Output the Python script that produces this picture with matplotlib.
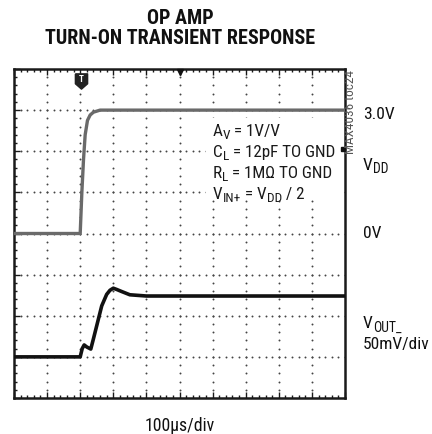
import matplotlib
matplotlib.use("Agg")
import matplotlib.pyplot as plt
import numpy as np
from matplotlib import font_manager, transforms
from matplotlib.patches import Rectangle
from matplotlib.path import Path

# ---------------- data ----------------
# time axis in divisions (100us/div)
t_in = [0.0, 2.00, 2.05, 2.10, 2.15, 2.22, 2.30, 2.40, 2.60, 10.0]
v_dd = [0.0, 0.0, 1.0, 1.8, 2.4, 2.75, 2.88, 2.95, 3.0, 3.0]          # volts

t_out = [0.0, 2.00, 2.06, 2.12, 2.20, 2.32, 2.40, 2.50, 2.65, 2.80, 2.90,
         3.00, 3.10, 3.25, 3.50, 4.00, 10.0]
v_out = [0.0, 0.0, 10.0, 14.5, 12.0, 9.5, 22.0, 38.0, 62.0, 76.0, 81.0,
         83.5, 82.0, 79.5, 75.5, 74.0, 74.0]                             # mV

title_lines = ["OP AMP", "TURN-ON TRANSIENT RESPONSE"]
# (text, is_subscript) segments
conditions = [[("A", 0), ("V", 1), (" = 1V/V", 0)],
              [("C", 0), ("L", 1), (" = 12pF TO GND", 0)],
              [("R", 0), ("L", 1), (" = 1M\u03a9 TO GND", 0)],
              [("V", 0), ("IN+", 1), (" = V", 0), ("DD", 1), (" / 2", 0)]]
lbl_top = [("3.0V", 0)]
lbl_vdd = [("V", 0), ("DD", 1)]
lbl_zero = [("0V", 0)]
lbl_vout = [("V", 0), ("OUT_", 1)]
lbl_scale = [("50mV/div", 0)]
xlabel = "100\u00b5s/div"
chart_id = "MAX4036 toc24"

# ---------------- style ----------------
names = {f.name for f in font_manager.fontManager.ttflist}
cond = "DejaVu Sans"
for cand in ["Roboto Condensed", "Archivo Narrow", "PT Sans Narrow",
             "Liberation Sans Narrow", "Roboto"]:
    if cand in names:
        cond = cand
        break
plt.rcParams["font.family"] = [cond, "DejaVu Sans"]

DPI = 100
fig = plt.figure(figsize=(4.32, 4.35), dpi=DPI)
renderer = fig.canvas.get_renderer()
ax = fig.add_axes([14/432, 1-399/435, 331/432, 329/435])
ax.set_xlim(0, 10)
ax.set_ylim(0, 8)


def text_width_pts(s, size):
    a = fig.text(0, 0, "I" + s + "I", fontsize=size)
    b = fig.text(0, 0, "II", fontsize=size)
    w = a.get_window_extent(renderer).width - b.get_window_extent(renderer).width
    a.remove()
    b.remove()
    return w * 72.0 / DPI


def rich(x, y, segs, size, transform, color="#111111", zorder=3):
    off = 0.0
    for s, sub in segs:
        fs = size * 0.78 if sub else size
        dy = -size * 0.2 if sub else 0.0
        tr = transforms.offset_copy(transform, fig=fig, x=off, y=dy, units="points")
        fig.text(x, y, s, fontsize=fs, transform=tr, va="baseline", ha="left",
                 color=color, zorder=zorder)
        off += text_width_pts(s, fs)


# graticule made of dots
dot_c = "#444444"
minor = np.arange(0, 10.01, 0.2)
minor_y = np.arange(0, 8.01, 0.2)
for i in range(1, 10):
    ax.plot(np.full_like(minor_y, i), minor_y, ls="none", marker="o",
            ms=1.4, mec="none", mfc=dot_c, zorder=1)
for j in range(1, 8):
    ax.plot(minor, np.full_like(minor, j), ls="none", marker="o",
            ms=1.4, mec="none", mfc=dot_c, zorder=1)

# frame & ticks
for s in ax.spines.values():
    s.set_linewidth(1.8)
    s.set_color("#1a1a1a")
ax.set_xticks(np.arange(0, 11, 1))
ax.set_xticks(minor, minor=True)
ax.set_yticks(np.arange(0, 9, 1))
ax.set_yticks(minor_y, minor=True)
ax.tick_params(which="both", direction="in", top=True, bottom=True,
               left=True, right=False, labelbottom=False, labelleft=False,
               color="#1a1a1a")
ax.tick_params(which="major", length=4, width=1)
ax.tick_params(which="minor", length=2.5, width=1)

# conditions text block with white background
ax.add_patch(Rectangle((5.8, 4.85), 4.15, 1.95, facecolor="white",
                       edgecolor="none", zorder=2))
fig_tr = fig.transFigure
for k, segs in enumerate(conditions):
    rich(213/432, 1 - (136 + k*21)/435, segs, 12.3, fig_tr, color="#1a1a1a")

# traces
in_div = 4 + np.array(v_dd) / 1.0
out_div = 1 + np.array(v_out) / 50.0
ax.plot(t_in, in_div, color="#6a6a6a", lw=2.4, solid_joinstyle="round", zorder=4)
ax.plot(t_out, out_div, color="#111111", lw=2.6, solid_joinstyle="round", zorder=4)

# markers
ax.plot([5], [7.93], marker="v", ms=4, color="#111111", clip_on=False, zorder=5)
ax.plot([9.95], [6.05], marker="s", ms=3.5, color="#111111", clip_on=False, zorder=5)
trig = Path([(-0.8, 1), (0.8, 1), (0.8, -0.3), (0, -1), (-0.8, -0.3), (-0.8, 1)])
ax.plot([2.02], [7.72], marker=trig, ms=11, color="#222222", zorder=5)
ax.text(2.02, 7.76, "T", color="white", fontsize=6.5, fontweight="bold",
        ha="center", va="center", zorder=6)

# title
fig.text(180/432, 1-19/435, title_lines[0], ha="center", va="center",
         fontsize=14.5, fontweight=900, color="#111111")
fig.text(180/432, 1-39/435, title_lines[1], ha="center", va="center",
         fontsize=14.5, fontweight=900, color="#111111")

# right-hand labels
lbl_x = 363/432
rs = 12.6
rich(lbl_x, 1-119/435, lbl_top, rs, fig_tr)
rich(lbl_x, 1-170/435, lbl_vdd, rs, fig_tr)
rich(lbl_x, 1-238/435, lbl_zero, rs, fig_tr)
rich(lbl_x, 1-328/435, lbl_vout, rs, fig_tr)
rich(lbl_x, 1-349/435, lbl_scale, rs, fig_tr)

fig.text(351/432, 1-70/435, chart_id, rotation=90, fontsize=9.5,
         color="#555555", ha="center", va="top")

fig.text(180/432, 1-426/435, xlabel, ha="center", va="center", fontsize=12.8,
         color="#111111")

fig.savefig("out.png", dpi=DPI)
